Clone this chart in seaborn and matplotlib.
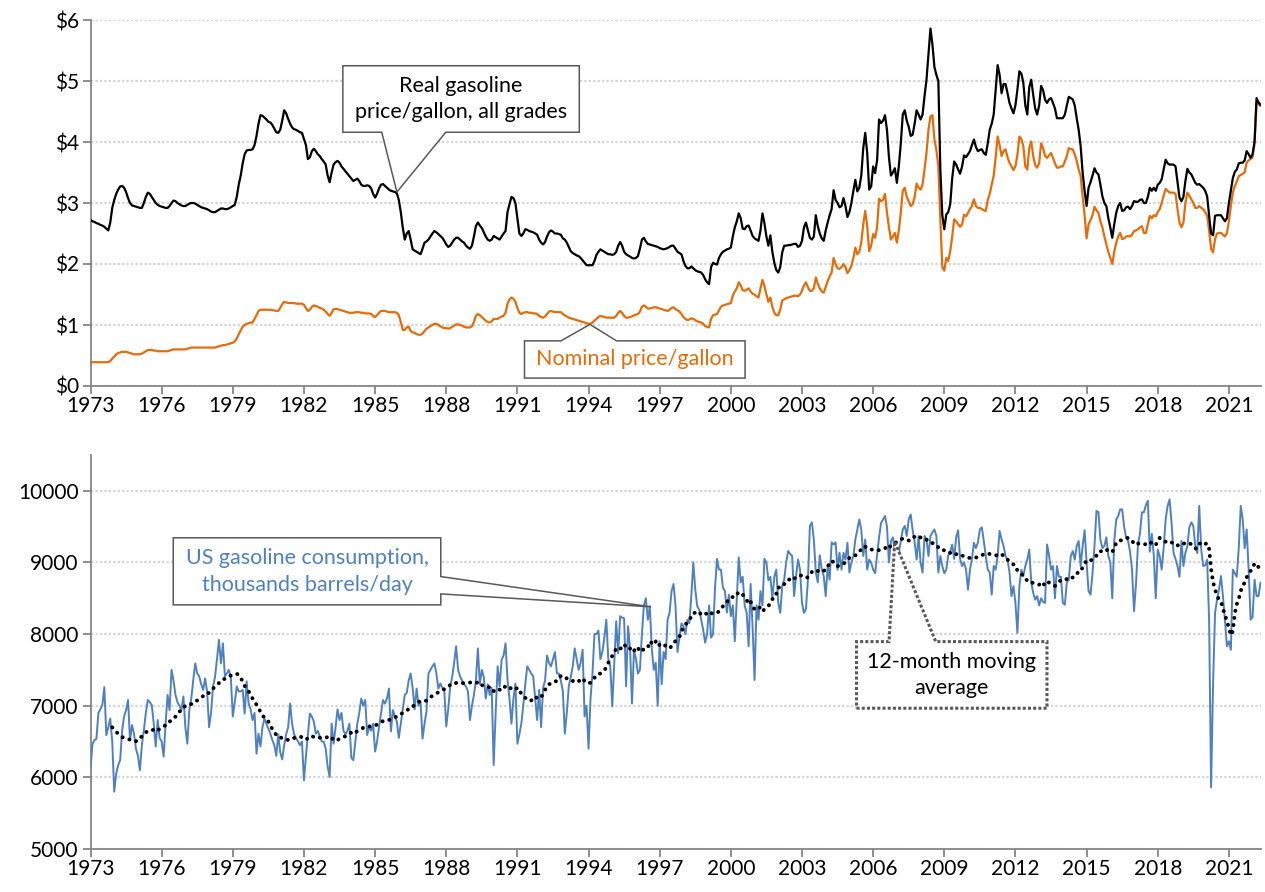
# coding:utf-8
# Gasoline price (real / nominal) and US gasoline consumption, 1973-2022

import numpy as np
import pandas as pd
import matplotlib
matplotlib.use("Agg")
import matplotlib.pyplot as plt
from matplotlib.patches import Polygon
import seaborn as sns

sns.set_style("white")
plt.rcParams['font.family'] = ['Lato', 'DejaVu Sans']

# monthly values, Jan 1973 - May 2022 (one row per year)
real_price = [
    2.72, 2.70, 2.69, 2.67, 2.66, 2.64, 2.63, 2.61, 2.58, 2.55, 2.68, 2.92,
    3.05, 3.15, 3.22, 3.27, 3.28, 3.25, 3.18, 3.08, 3.00, 2.96, 2.95, 2.94,
    2.93, 2.92, 2.92, 3.00, 3.10, 3.17, 3.15, 3.10, 3.05, 3.00, 2.97, 2.95,
    2.94, 2.93, 2.92, 2.92, 2.95, 3.00, 3.04, 3.03, 3.00, 2.98, 2.96, 2.95,
    2.95, 2.97, 2.99, 3.00, 3.00, 2.99, 2.97, 2.95, 2.93, 2.92, 2.91, 2.90,
    2.88, 2.86, 2.85, 2.85, 2.87, 2.89, 2.91, 2.91, 2.90, 2.90, 2.91, 2.93,
    2.95, 2.97, 3.10, 3.30, 3.45, 3.65, 3.80, 3.86, 3.87, 3.87, 3.88, 3.95,
    4.10, 4.30, 4.44, 4.43, 4.40, 4.37, 4.33, 4.32, 4.28, 4.22, 4.16, 4.15,
    4.20, 4.35, 4.52, 4.47, 4.38, 4.30, 4.24, 4.21, 4.20, 4.18, 4.16, 4.15,
    4.05, 3.95, 3.72, 3.75, 3.85, 3.89, 3.85, 3.80, 3.77, 3.72, 3.68, 3.63,
    3.45, 3.34, 3.50, 3.63, 3.67, 3.69, 3.66, 3.60, 3.56, 3.52, 3.48, 3.44,
    3.40, 3.36, 3.38, 3.40, 3.36, 3.30, 3.28, 3.28, 3.29, 3.28, 3.24, 3.15,
    3.09, 3.15, 3.24, 3.30, 3.31, 3.28, 3.25, 3.22, 3.20, 3.19, 3.18, 3.16,
    3.05, 2.85, 2.60, 2.40, 2.50, 2.54, 2.40, 2.24, 2.22, 2.20, 2.18, 2.16,
    2.25, 2.35, 2.37, 2.40, 2.45, 2.50, 2.54, 2.52, 2.49, 2.46, 2.43, 2.38,
    2.32, 2.28, 2.30, 2.35, 2.40, 2.43, 2.43, 2.40, 2.37, 2.35, 2.30, 2.27,
    2.25, 2.30, 2.45, 2.62, 2.68, 2.63, 2.59, 2.52, 2.45, 2.40, 2.38, 2.40,
    2.46, 2.44, 2.42, 2.40, 2.45, 2.50, 2.54, 2.85, 2.98, 3.10, 3.08, 3.00,
    2.75, 2.50, 2.46, 2.50, 2.57, 2.56, 2.54, 2.53, 2.52, 2.50, 2.48, 2.40,
    2.35, 2.32, 2.36, 2.45, 2.52, 2.55, 2.53, 2.50, 2.50, 2.49, 2.48, 2.42,
    2.40, 2.35, 2.28, 2.21, 2.18, 2.16, 2.14, 2.13, 2.10, 2.06, 2.02, 1.98,
    1.98, 1.98, 1.98, 2.05, 2.15, 2.20, 2.24, 2.22, 2.20, 2.18, 2.16, 2.16,
    2.15, 2.16, 2.20, 2.30, 2.36, 2.30, 2.20, 2.16, 2.14, 2.12, 2.10, 2.09,
    2.10, 2.13, 2.25, 2.40, 2.43, 2.37, 2.33, 2.32, 2.31, 2.30, 2.29, 2.28,
    2.26, 2.25, 2.24, 2.25, 2.26, 2.28, 2.30, 2.30, 2.25, 2.20, 2.18, 2.16,
    2.05, 1.97, 1.93, 1.93, 1.96, 1.93, 1.90, 1.88, 1.87, 1.86, 1.82, 1.75,
    1.70, 1.67, 1.95, 2.02, 2.00, 1.99, 2.10, 2.16, 2.20, 2.22, 2.24, 2.25,
    2.27, 2.45, 2.60, 2.70, 2.83, 2.75, 2.58, 2.57, 2.62, 2.63, 2.55, 2.46,
    2.42, 2.40, 2.38, 2.55, 2.83, 2.67, 2.45, 2.30, 2.47, 2.20, 2.02, 1.90,
    1.86, 1.95, 2.19, 2.30, 2.30, 2.31, 2.31, 2.32, 2.33, 2.33, 2.28, 2.30,
    2.38, 2.60, 2.68, 2.55, 2.43, 2.40, 2.45, 2.80, 2.62, 2.50, 2.42, 2.38,
    2.55, 2.68, 2.80, 2.90, 3.21, 3.05, 3.00, 2.93, 2.95, 3.08, 2.95, 2.77,
    2.85, 3.00, 3.20, 3.38, 3.19, 3.25, 3.45, 3.90, 4.15, 3.82, 3.22, 3.27,
    3.60, 3.49, 3.70, 4.37, 4.31, 4.35, 4.44, 4.20, 3.75, 3.45, 3.50, 3.57,
    3.33, 3.60, 3.98, 4.45, 4.52, 4.35, 4.25, 4.10, 4.12, 4.30, 4.52, 4.45,
    4.37, 4.45, 4.75, 5.02, 5.45, 5.86, 5.60, 5.23, 5.10, 5.00, 3.55, 2.80,
    2.57, 2.81, 2.85, 2.98, 3.40, 3.68, 3.63, 3.55, 3.48, 3.60, 3.78, 3.75,
    3.80, 3.85, 3.95, 4.04, 3.92, 3.85, 3.87, 3.88, 3.82, 3.79, 3.98, 4.20,
    4.30, 4.45, 4.85, 5.26, 5.10, 4.80, 4.95, 4.95, 4.80, 4.64, 4.55, 4.47,
    4.60, 4.86, 5.16, 5.12, 4.97, 4.60, 4.45, 4.90, 5.02, 4.77, 4.55, 4.45,
    4.60, 4.92, 4.85, 4.69, 4.64, 4.70, 4.72, 4.64, 4.55, 4.39, 4.39, 4.39,
    4.39, 4.45, 4.60, 4.74, 4.72, 4.70, 4.60, 4.39, 4.20, 3.93, 3.50, 3.20,
    2.95, 3.25, 3.34, 3.45, 3.57, 3.50, 3.47, 3.30, 3.11, 3.00, 2.95, 2.75,
    2.60, 2.43, 2.65, 2.84, 2.95, 3.00, 2.87, 2.88, 2.93, 2.94, 2.90, 2.95,
    3.03, 3.02, 3.02, 3.05, 3.06, 3.00, 3.00, 3.10, 3.25, 3.20, 3.25, 3.20,
    3.30, 3.33, 3.39, 3.55, 3.71, 3.65, 3.63, 3.63, 3.63, 3.60, 3.35, 3.09,
    3.03, 3.10, 3.36, 3.56, 3.50, 3.47, 3.40, 3.33, 3.30, 3.31, 3.28, 3.25,
    3.20, 3.11, 2.79, 2.50, 2.47, 2.79, 2.80, 2.80, 2.80, 2.75, 2.70, 2.75,
    3.00, 3.20, 3.41, 3.51, 3.55, 3.65, 3.66, 3.66, 3.70, 3.85, 3.80, 3.74,
    3.80, 4.01, 4.72, 4.65, 4.61,
]

nominal_price = [
    0.39, 0.39, 0.39, 0.39, 0.39, 0.39, 0.39, 0.39, 0.39, 0.39, 0.41, 0.45,
    0.48, 0.52, 0.54, 0.55, 0.56, 0.56, 0.56, 0.55, 0.54, 0.53, 0.52, 0.52,
    0.52, 0.52, 0.53, 0.55, 0.57, 0.59, 0.59, 0.59, 0.58, 0.58, 0.57, 0.57,
    0.57, 0.57, 0.57, 0.57, 0.58, 0.59, 0.60, 0.60, 0.60, 0.60, 0.60, 0.60,
    0.60, 0.61, 0.62, 0.63, 0.63, 0.63, 0.63, 0.63, 0.63, 0.63, 0.63, 0.63,
    0.63, 0.63, 0.63, 0.63, 0.64, 0.65, 0.66, 0.67, 0.67, 0.68, 0.69, 0.70,
    0.71, 0.73, 0.78, 0.85, 0.91, 0.97, 1.00, 1.02, 1.03, 1.04, 1.04, 1.10,
    1.16, 1.23, 1.25, 1.25, 1.25, 1.25, 1.25, 1.25, 1.24, 1.24, 1.23, 1.23,
    1.28, 1.34, 1.38, 1.37, 1.36, 1.36, 1.36, 1.36, 1.35, 1.35, 1.35, 1.35,
    1.33, 1.28, 1.23, 1.25, 1.30, 1.32, 1.31, 1.30, 1.28, 1.27, 1.25, 1.22,
    1.18, 1.15, 1.20, 1.26, 1.26, 1.26, 1.25, 1.24, 1.23, 1.22, 1.21, 1.20,
    1.20, 1.20, 1.21, 1.21, 1.21, 1.20, 1.20, 1.19, 1.19, 1.19, 1.18, 1.15,
    1.13, 1.16, 1.20, 1.23, 1.23, 1.23, 1.22, 1.21, 1.21, 1.21, 1.21, 1.20,
    1.16, 1.05, 0.92, 0.92, 0.96, 0.97, 0.90, 0.88, 0.87, 0.85, 0.84, 0.84,
    0.86, 0.90, 0.94, 0.96, 0.98, 1.00, 1.02, 1.02, 1.00, 0.98, 0.96, 0.95,
    0.95, 0.94, 0.95, 0.97, 0.99, 1.01, 1.01, 1.00, 0.99, 0.97, 0.96, 0.96,
    0.96, 0.98, 1.05, 1.15, 1.18, 1.16, 1.13, 1.10, 1.07, 1.05, 1.04, 1.06,
    1.10, 1.10, 1.10, 1.12, 1.14, 1.15, 1.20, 1.35, 1.42, 1.45, 1.43, 1.38,
    1.28, 1.20, 1.18, 1.20, 1.21, 1.21, 1.20, 1.20, 1.19, 1.19, 1.18, 1.15,
    1.13, 1.12, 1.14, 1.18, 1.22, 1.23, 1.22, 1.21, 1.21, 1.21, 1.21, 1.18,
    1.16, 1.14, 1.12, 1.11, 1.10, 1.09, 1.08, 1.07, 1.06, 1.05, 1.04, 1.03,
    1.02, 1.02, 1.04, 1.07, 1.10, 1.13, 1.15, 1.14, 1.13, 1.12, 1.12, 1.12,
    1.12, 1.12, 1.15, 1.20, 1.23, 1.20, 1.15, 1.12, 1.12, 1.13, 1.14, 1.16,
    1.17, 1.18, 1.22, 1.30, 1.32, 1.30, 1.27, 1.27, 1.28, 1.29, 1.29, 1.28,
    1.27, 1.26, 1.25, 1.24, 1.23, 1.25, 1.28, 1.29, 1.26, 1.24, 1.22, 1.18,
    1.13, 1.10, 1.08, 1.09, 1.11, 1.10, 1.08, 1.06, 1.05, 1.04, 1.02, 0.98,
    0.97, 0.96, 1.10, 1.16, 1.17, 1.18, 1.24, 1.30, 1.32, 1.33, 1.34, 1.35,
    1.36, 1.48, 1.55, 1.60, 1.70, 1.65, 1.57, 1.56, 1.58, 1.60, 1.55, 1.51,
    1.50, 1.47, 1.45, 1.60, 1.74, 1.64, 1.50, 1.38, 1.45, 1.30, 1.20, 1.16,
    1.16, 1.25, 1.40, 1.42, 1.44, 1.45, 1.46, 1.47, 1.48, 1.48, 1.47, 1.50,
    1.56, 1.65, 1.70, 1.62, 1.56, 1.56, 1.60, 1.78, 1.68, 1.60, 1.55, 1.53,
    1.62, 1.72, 1.80, 1.86, 2.10, 2.00, 1.93, 1.92, 1.95, 2.00, 1.95, 1.85,
    1.90, 1.97, 2.10, 2.27, 2.16, 2.20, 2.35, 2.65, 2.87, 2.62, 2.21, 2.30,
    2.49, 2.43, 2.60, 3.07, 3.03, 3.05, 3.15, 2.84, 2.60, 2.40, 2.45, 2.51,
    2.35, 2.55, 2.84, 3.20, 3.25, 3.10, 3.03, 2.95, 2.98, 3.10, 3.32, 3.25,
    3.22, 3.30, 3.55, 3.82, 4.20, 4.42, 4.44, 4.04, 3.87, 3.60, 2.73, 1.95,
    1.89, 2.10, 2.05, 2.21, 2.45, 2.73, 2.70, 2.65, 2.61, 2.65, 2.81, 2.78,
    2.84, 2.90, 2.95, 3.06, 2.95, 2.92, 2.92, 2.90, 2.88, 2.87, 3.05, 3.15,
    3.30, 3.45, 3.75, 4.09, 3.95, 3.77, 3.85, 3.88, 3.75, 3.66, 3.60, 3.54,
    3.60, 3.79, 4.09, 4.05, 3.93, 3.60, 3.55, 3.90, 4.01, 3.77, 3.62, 3.58,
    3.65, 3.98, 3.90, 3.77, 3.74, 3.78, 3.82, 3.74, 3.65, 3.58, 3.58, 3.60,
    3.60, 3.68, 3.77, 3.90, 3.88, 3.88, 3.80, 3.69, 3.55, 3.44, 3.10, 2.80,
    2.42, 2.65, 2.72, 2.80, 2.94, 2.88, 2.84, 2.70, 2.60, 2.45, 2.32, 2.20,
    2.10, 2.00, 2.20, 2.35, 2.45, 2.51, 2.41, 2.42, 2.45, 2.46, 2.45, 2.48,
    2.54, 2.55, 2.57, 2.60, 2.62, 2.51, 2.51, 2.65, 2.79, 2.75, 2.80, 2.78,
    2.85, 2.90, 3.00, 3.12, 3.23, 3.20, 3.17, 3.17, 3.17, 3.15, 2.90, 2.68,
    2.60, 2.68, 3.00, 3.17, 3.12, 3.06, 3.00, 2.92, 2.92, 2.95, 2.92, 2.90,
    2.85, 2.79, 2.55, 2.25, 2.19, 2.41, 2.50, 2.51, 2.51, 2.48, 2.45, 2.50,
    2.70, 2.95, 3.17, 3.28, 3.35, 3.44, 3.46, 3.48, 3.50, 3.66, 3.70, 3.72,
    3.75, 3.98, 4.65, 4.62, 4.59,
]

# thousands of barrels per day
consumption = [
    6120, 6470, 6520, 6540, 6900, 6950, 7010, 7260, 6590, 6700, 6820, 6500,
    5800, 6050, 6170, 6240, 6650, 6850, 6940, 7080, 6520, 6730, 6610, 6400,
    6300, 6100, 6450, 6660, 6900, 7080, 7050, 7010, 6750, 6430, 6800, 6550,
    6500, 6290, 6750, 7150, 6940, 7500, 7350, 7150, 7050, 7000, 6940, 7130,
    6700, 6470, 6940, 7100, 7360, 7590, 7450, 7410, 7300, 7220, 7380, 7200,
    6700, 6900, 7270, 7400, 7650, 7920, 7590, 7870, 7410, 7450, 7500, 7400,
    6850, 7050, 7270, 7200, 7200, 7220, 6890, 7340, 7030, 6950, 6800, 6900,
    6330, 6610, 6430, 6700, 6820, 6750, 6680, 6610, 6520, 6450, 6300, 6600,
    6350, 6250, 6450, 6600, 6700, 7030, 6750, 6600, 6550, 6500, 6450, 6500,
    5960, 6290, 6600, 6890, 6850, 6780, 6610, 6650, 6570, 6500, 6500, 6400,
    6150, 6005, 6750, 6470, 6700, 6950, 6800, 6900, 6650, 6600, 6650, 6750,
    6270, 6240, 6500, 6750, 6900, 7100, 7000, 7080, 6590, 6710, 6650, 6750,
    6360, 6500, 6710, 6900, 7080, 7030, 7100, 7240, 6640, 6940, 6850, 6780,
    6550, 6750, 6950, 7150, 7180, 7350, 7450, 7250, 6950, 7240, 7000, 7050,
    6540, 6750, 6920, 7450, 7500, 7550, 7590, 7450, 7240, 7310, 7250, 7220,
    6710, 6950, 7270, 7400, 7600, 7830, 7500, 7410, 7350, 7300, 7270, 7200,
    6800, 7000, 7150, 7350, 7800, 7300, 7500, 7400, 7100, 7300, 7150, 7250,
    6170, 6900, 7550, 7270, 7640, 7700, 7870, 7360, 7100, 6750, 7100, 7310,
    6470, 6600, 6750, 7010, 7300, 7550, 7500, 7450, 7410, 7100, 6800, 7220,
    6700, 7250, 7350, 7700, 7600, 7550, 7650, 7750, 7450, 7450, 7350, 7200,
    6610, 6900, 7270, 7400, 7550, 7800, 7650, 7500, 7600, 7780, 6850, 7000,
    6400, 7100, 7450, 8000, 8000, 8050, 7650, 7750, 7950, 8200, 7650, 7550,
    6990, 7600, 8180, 7730, 8250, 8230, 8220, 7270, 8110, 7800, 7030, 7780,
    7650, 7450, 7500, 8000, 8400, 8500, 8200, 8390, 7800, 7500, 7600, 7000,
    7900, 7300, 7750, 7650, 8200, 8300, 8600, 8700, 8400, 7750, 7950, 8150,
    8110, 8000, 8200, 8150, 8530, 9000, 8620, 8390, 8340, 8200, 8060, 7880,
    8000, 8400, 7950, 8000, 8650, 9050, 8900, 8900, 8650, 8600, 8300, 8550,
    8250, 8400, 7900, 8480, 9070, 8720, 8800, 8400, 8300, 7830, 8700, 8100,
    7360, 8400, 8200, 8600, 8400, 9050, 9000, 8750, 8800, 8500, 8800, 8900,
    8435, 8295, 8670, 8760, 9000, 9160, 9120, 9090, 8530, 8810, 9040, 8900,
    8435, 8295, 8350, 8760, 9510, 9560, 9320, 8860, 8720, 9100, 8900, 8810,
    8530, 8950, 8760, 9280, 9250, 9280, 8900, 9135, 8900, 9135, 9040, 9275,
    8860, 9000, 9090, 9320, 9460, 9600, 9460, 9090, 9320, 8900, 9040, 9000,
    8900, 8850, 9100, 9350, 9550, 9600, 9650, 9500, 9000, 9300, 9350, 9150,
    9000, 9135, 9300, 9460, 9510, 9370, 9600, 9670, 9450, 9280, 9040, 9370,
    9000, 8860, 9370, 9320, 9090, 9370, 9420, 9460, 9370, 8860, 9090, 8950,
    8850, 8900, 9100, 9150, 9250, 9050, 9350, 9450, 9050, 8950, 9000, 8900,
    8620, 8900, 9050, 9275, 9200, 9275, 9460, 9490, 9300, 9090, 8900, 8860,
    8550, 8950, 8900, 9090, 9440, 9320, 9230, 9090, 9040, 8860, 8530, 8670,
    8435, 8015, 8670, 8900, 8810, 8950, 9040, 9180, 8720, 8575, 8480, 8530,
    8400, 8500, 8450, 8435, 9250, 9100, 8900, 8950, 8500, 8950, 8800, 8800,
    8435, 8410, 8720, 8760, 9090, 9160, 9040, 9230, 9300, 8950, 9230, 9450,
    9000, 8600, 8550, 8850, 9230, 9720, 9700, 9320, 9200, 9230, 9350, 9090,
    9000, 8500, 9300, 9600, 9650, 9740, 9740, 9500, 9350, 9300, 9150, 8900,
    8320, 8700, 9250, 9400, 9700, 9700, 9800, 9860, 9150, 9400, 9100, 8500,
    9180, 9090, 8900, 9200, 9600, 9790, 9880, 9550, 9130, 9050, 8950, 8800,
    9300, 8950, 9135, 9230, 9490, 9560, 9510, 9230, 9130, 9790, 9180, 8950,
    8960, 9040, 8200, 5860, 7300, 8295, 8480, 8620, 8810, 8530, 8200, 7830,
    7900, 7780, 8900, 8850, 8800, 9200, 9790, 9600, 9200, 9460, 8900, 8200,
    8240, 8760, 8530, 8530, 8720,
]

year_ticks = list(range(1973, 2022, 3))
price_ticks = [0, 1, 2, 3, 4, 5, 6]
price_tick_labels = ['$0', '$1', '$2', '$3', '$4', '$5', '$6']
cons_ticks = [5000, 6000, 7000, 8000, 9000, 10000]

assert len(real_price) == len(nominal_price) == len(consumption)
n = len(consumption)
years = 1973 + np.arange(n) / 12.0
ma12 = pd.Series(consumption).rolling(12).mean()

ORANGE = '#E46C0A'
BLUE = '#4F81BD'
AXIS_GRAY = '#868686'
BOX_GRAY = '#595959'


# 坐标轴样式
def style_axis(ax, yticks, ylabels, ylim):
    ax.set_xlim(years[0], years[-1])
    ax.set_ylim(*ylim)
    ax.set_xticks(year_ticks)
    ax.set_xticklabels([str(y) for y in year_ticks])
    ax.set_yticks(yticks)
    ax.set_yticklabels(ylabels)
    for s in ['top', 'right']:
        ax.spines[s].set_visible(False)
    for s in ['left', 'bottom']:
        ax.spines[s].set_color(AXIS_GRAY)
        ax.spines[s].set_linewidth(1.3)
    ax.tick_params(axis='both', direction='out', length=5.5, width=1.3,
                   color=AXIS_GRAY, labelsize=15, labelcolor='black',
                   bottom=True, left=True)
    ax.tick_params(axis='x', pad=2)
    ax.tick_params(axis='y', pad=3)
    ax.grid(axis='y', color='#D4D4D4', linestyle=(0, (1, 1)), linewidth=1.6)
    ax.grid(axis='x', visible=False)
    ax.set_axisbelow(True)
    ax.set_xlabel('')
    ax.set_ylabel('')


# 带尖角的标注框
def callout(ax, box, side, a, b, tip, text, color, ls='-', lw=1.1):
    x0, y0, x1, y1 = box
    if side == 'bottom':
        verts = [(x0, y1), (x0, y0), (a, y0), tip, (b, y0), (x1, y0), (x1, y1)]
    elif side == 'top':
        verts = [(x0, y0), (x1, y0), (x1, y1), (b, y1), tip, (a, y1), (x0, y1)]
    else:  # right
        verts = [(x0, y0), (x1, y0), (x1, a), tip, (x1, b), (x1, y1), (x0, y1)]
    poly = Polygon(verts, closed=True, facecolor='white', edgecolor=BOX_GRAY,
                   linewidth=lw, linestyle=ls, joinstyle='miter', zorder=5,
                   clip_on=False)
    ax.add_patch(poly)
    ax.text((x0 + x1) / 2, (y0 + y1) / 2, text, ha='center', va='center',
            fontsize=15.5, color=color, linespacing=1.4, zorder=6)


fig = plt.figure(figsize=(12.65, 8.92), dpi=100)
ax1 = fig.add_axes([90.5 / 1265, 1 - 386 / 892, 1170 / 1265, 366 / 892])
ax2 = fig.add_axes([90.5 / 1265, 1 - 849 / 892, 1170 / 1265, 394 / 892])

# 上图: 油价
sns.lineplot(x=years, y=nominal_price, ax=ax1, color=ORANGE, linewidth=1.6, zorder=3)
sns.lineplot(x=years, y=real_price, ax=ax1, color='black', linewidth=1.6, zorder=3)
style_axis(ax1, price_ticks, price_tick_labels, (0, 6))

callout(ax1, (1983.64, 4.16, 1993.61, 5.25), 'bottom', 1985.28, 1987.98,
        (1985.92, 3.18), 'Real gasoline\nprice/gallon, all grades', 'black')
callout(ax1, (1991.30, 0.13, 2000.60, 0.74), 'top', 1992.84, 1995.18,
        (1994.06, 1.01), 'Nominal price/gallon', ORANGE)

# 下图: 消费量
sns.lineplot(x=years, y=consumption, ax=ax2, color=BLUE, linewidth=1.4, zorder=3)
ax2.plot(years, ma12, color='black', linewidth=2.8, linestyle=(0, (0.05, 1.8)),
         dash_capstyle='round', zorder=4)
style_axis(ax2, cons_ticks, [str(v) for v in cons_ticks], (5000, 10500))

callout(ax2, (1976.49, 8408, 1987.77, 9344), 'right', 8561, 8803,
        (1996.64, 8380), 'US gasoline consumption,\nthousands barrels/day', BLUE)
callout(ax2, (2005.30, 6965, 2013.33, 7895), 'top', 2006.67, 2008.64,
        (2006.91, 9292), '12-month moving\naverage', 'black',
        ls=(0, (1, 0.7)), lw=2.2)

plt.savefig('out.png', dpi=100)
